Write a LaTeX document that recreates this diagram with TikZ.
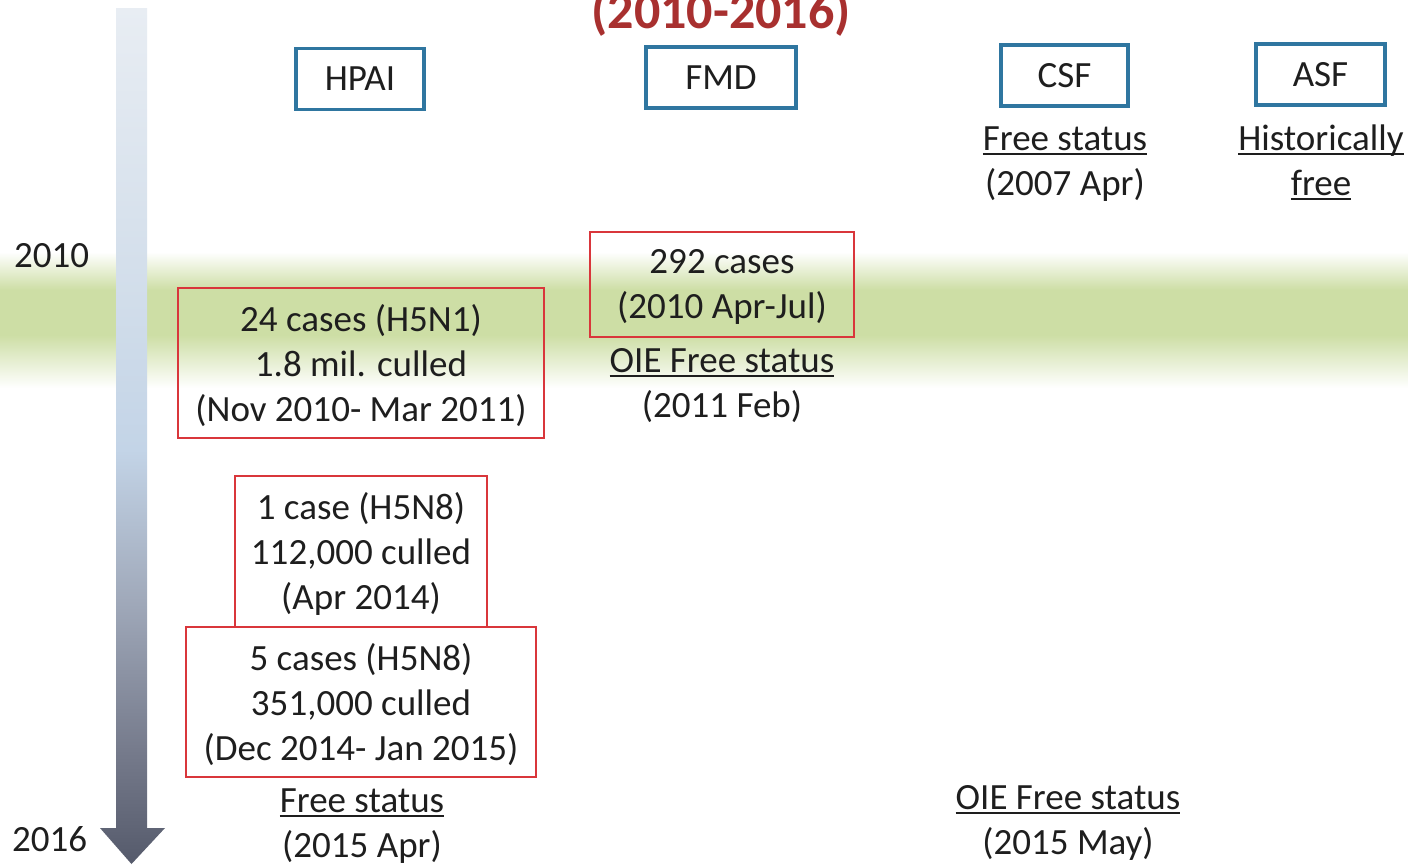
\documentclass[tikz,border=0pt]{standalone}
\usepackage{fontspec}
\setmainfont{Carlito}

% underline drawn at a fixed depth below the baseline
\newsavebox{\ulbox}
\newcommand{\ulined}[1]{\sbox{\ulbox}{#1}\rlap{\rule[-0.13em]{\wd\ulbox}{0.06em}}\usebox{\ulbox}}

\definecolor{ink}{HTML}{1E1E1E}
\definecolor{boxblue}{HTML}{2F76A0}
\definecolor{boxred}{HTML}{D9363B}
\definecolor{titlered}{HTML}{A8302F}
\definecolor{band}{RGB}{205,222,165}
\definecolor{arrA}{RGB}{85,90,107}
\definecolor{arrB}{RGB}{118,123,140}
\definecolor{arrC}{RGB}{160,169,186}
\definecolor{arrD}{RGB}{195,212,231}
\definecolor{arrE}{RGB}{209,221,234}
\definecolor{arrF}{RGB}{232,237,243}

% light blue at the top, dark slate at the tip of the time arrow
\pgfdeclareverticalshading{timeshade}{100bp}{%
  color(0bp)=(arrA);
  color(25bp)=(arrA);
  color(31.7bp)=(arrB);
  color(40.4bp)=(arrC);
  color(49.2bp)=(arrD);
  color(57.9bp)=(arrE);
  color(75bp)=(arrF);
  color(100bp)=(arrF)}

\tikzset{
  catbox/.style={draw=boxblue, line width=3.2pt, inner sep=0pt, minimum height=61pt},
  eventbox/.style={draw=boxred, line width=1.8pt, align=center, inner sep=0pt, text depth=1pt},
  lbl/.style={anchor=base, inner sep=0pt},
}

\begin{document}
\begin{tikzpicture}[x=1pt, y=-1pt, font=\fontsize{37}{45}\selectfont, text=ink]
\useasboundingbox (0,0) rectangle (1408,865);
\clip (0,0) rectangle (1408,865);
\fill[white] (0,0) rectangle (1408,865);

% soft green band marking 2010-2011
\shade[top color=white, bottom color=band] (0,252) rectangle (1408,290);
\fill[band] (0,289.5) rectangle (1408,335.5);
\shade[top color=band, bottom color=white] (0,335) rectangle (1408,388);

% time arrow
\shade[shading=timeshade]
  (116,8) -- (147,8) -- (147,828) -- (165,828) -- (131.5,864) -- (100,828) -- (116,828) -- cycle;

% title
\node[lbl, font=\fontsize{52}{60}\selectfont\bfseries, text=titlered] (title) at (721,28) {(2010-2016)};

% disease headers
\node[catbox, minimum width=128pt] (hpai) at (360,79) {HPAI};
\node[catbox, minimum width=150pt] (fmd) at (721,77.5) {FMD};
\node[catbox, minimum width=127pt] (csf) at (1064.5,75.5) {CSF};
\node[catbox, minimum width=129pt] (asf) at (1320.5,74.5) {ASF};

% year marks
\node[lbl, anchor=base west] (y2010) at (14,267) {2010};
\node[lbl, anchor=base west] (y2016) at (12,851) {2016};

% HPAI outbreaks
\node[eventbox, minimum width=366pt, minimum height=150pt] (h5n1) at (361,363)
  {24 cases (H5N1)\\1.8 mil. culled\\(Nov 2010- Mar 2011)};
\node[eventbox, fill=white, minimum width=252pt, minimum height=151pt] (h5n8a) at (361,551.5)
  {1 case (H5N8)\\112,000 culled\\(Apr 2014)};
\node[eventbox, fill=white, minimum width=350pt, minimum height=150pt] (h5n8b) at (361,702)
  {5 cases (H5N8)\\351,000 culled\\(Dec 2014- Jan 2015)};
\node[lbl] (hpaifree) at (362,812) {\ulined{Free status}};
\node[lbl] (hpaidate) at (362,857) {(2015 Apr)};

% FMD
\node[eventbox, minimum width=264pt, minimum height=105pt] (fmdcases) at (722,284.5)
  {292 cases\\(2010 Apr-Jul)};
\node[lbl] (fmdoie) at (722,372) {\ulined{OIE Free status}};
\node[lbl] (fmddate) at (722,417) {(2011 Feb)};

% CSF
\node[lbl] (csffree) at (1065,150) {\ulined{Free status}};
\node[lbl] (csfdate) at (1065,195) {(2007 Apr)};
\node[lbl] (csfoie) at (1068,809) {\ulined{OIE Free status}};
\node[lbl] (csfdate2) at (1068,854) {(2015 May)};

% ASF
\node[lbl] (asfhist) at (1321,150) {\ulined{Historically}};
\node[lbl] (asffree) at (1321,195) {\ulined{free}};
\end{tikzpicture}
\end{document}
